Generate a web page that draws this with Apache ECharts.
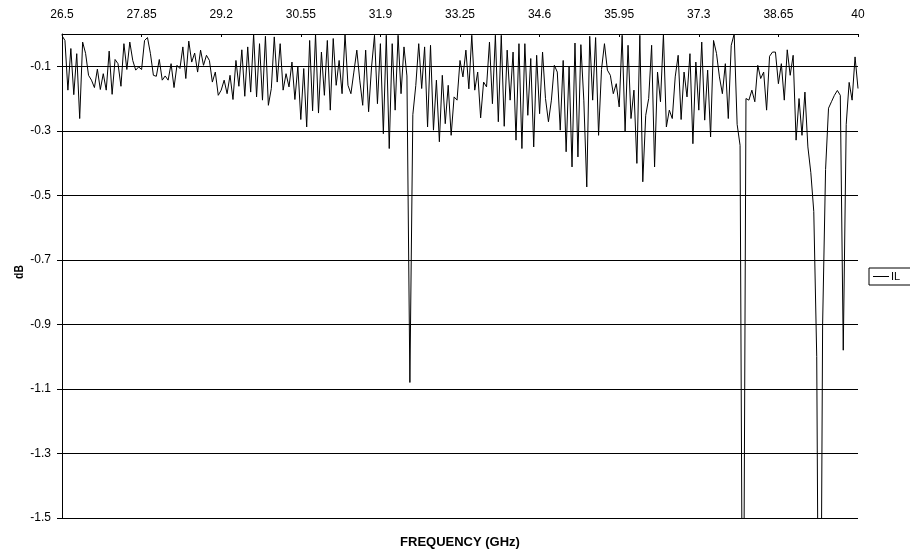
<!DOCTYPE html>
<html>
<head>
<meta charset="utf-8">
<script src="https://cdn.jsdelivr.net/npm/echarts@6/dist/echarts.min.js"></script>
<style>
html,body{margin:0;padding:0;background:#fff;}
#chart{width:910px;height:554px;}
</style>
</head>
<body>
<div id="chart"></div>
<script>
// Frequency sweep (GHz): start, step, number of points = IL_VALUES.length
var FREQ_START = 26.5;
var FREQ_STEP = 0.05;
var X_TICK_INTERVAL = 1.35;
var SERIES_NAME = 'IL';
var Y_LABEL = 'dB';
var X_LABEL = 'FREQUENCY (GHz)';

// Insertion loss (dB)
var IL_VALUES = [
-0.005,-0.02,-0.174,-0.045,-0.188,-0.061,-0.262,-0.025,-0.06,-0.128,
-0.143,-0.166,-0.109,-0.172,-0.123,-0.174,-0.053,-0.187,-0.079,-0.092,
-0.162,-0.03,-0.11,-0.025,-0.082,-0.112,-0.102,-0.11,-0.02,-0.011,
-0.061,-0.128,-0.131,-0.079,-0.143,-0.13,-0.143,-0.092,-0.166,-0.097,
-0.107,-0.04,-0.138,-0.022,-0.087,-0.059,-0.118,-0.05,-0.097,-0.066,
-0.082,-0.149,-0.118,-0.19,-0.174,-0.143,-0.185,-0.128,-0.203,-0.082,
-0.162,-0.049,-0.193,-0.04,-0.18,0.0,-0.195,-0.03,-0.205,-0.007,
-0.221,-0.169,-0.009,-0.149,-0.03,-0.174,-0.123,-0.164,-0.087,-0.203,
-0.1,-0.265,-0.107,-0.288,-0.02,-0.238,0.0,-0.245,-0.056,-0.19,
-0.02,-0.236,-0.014,-0.159,-0.082,-0.185,0.0,-0.159,-0.185,-0.118,
-0.05,-0.143,-0.221,-0.05,-0.241,-0.102,-0.004,-0.216,-0.03,-0.309,
-0.004,-0.355,-0.03,-0.236,-0.004,-0.185,-0.04,-0.13,-1.08,-0.25,
-0.16,-0.03,-0.169,-0.04,-0.288,-0.035,-0.298,-0.143,-0.334,-0.128,
-0.278,-0.159,-0.314,-0.195,-0.205,-0.082,-0.133,-0.05,-0.17,-0.004,
-0.174,-0.118,-0.26,-0.149,-0.164,-0.025,-0.216,-0.004,-0.272,-0.004,
-0.286,-0.05,-0.205,-0.056,-0.329,-0.03,-0.355,-0.03,-0.252,-0.076,
-0.35,-0.066,-0.247,-0.056,-0.2,-0.272,-0.205,-0.097,-0.118,-0.298,
-0.082,-0.365,-0.102,-0.412,-0.028,-0.381,-0.033,-0.205,-0.474,-0.007,
-0.205,-0.011,-0.314,-0.11,-0.03,-0.112,-0.128,-0.185,-0.154,-0.226,
-0.004,-0.303,-0.035,-0.262,-0.174,-0.401,-0.004,-0.458,-0.252,-0.2,
-0.035,-0.412,-0.118,-0.21,0.0,-0.288,-0.236,-0.262,-0.133,-0.066,
-0.265,-0.118,-0.195,-0.061,-0.34,-0.087,-0.236,-0.025,-0.267,-0.112,
-0.319,-0.02,-0.06,-0.133,-0.185,-0.092,-0.262,-0.035,0.0,-0.28,
-0.345,-2.3,-0.2,-0.205,-0.174,-0.21,-0.097,-0.138,-0.118,-0.236,
-0.069,-0.056,-0.056,-0.154,-0.092,-0.205,-0.049,-0.128,-0.066,-0.329,
-0.2,-0.314,-0.18,-0.35,-0.43,-0.55,-1.0,-2.6,-0.9,-0.42,
-0.23,-0.21,-0.19,-0.175,-0.19,-0.98,-0.28,-0.15,-0.205,-0.071,
-0.169
];

var points = [];
for (var i = 0; i < IL_VALUES.length; i++) {
  var f = Math.round((FREQ_START + FREQ_STEP * i) * 1000) / 1000;
  points.push([f, IL_VALUES[i]]);
}
var FREQ_END = points[points.length - 1][0];

var FONT = '"Liberation Sans", Arial, sans-serif';
var chart = echarts.init(document.getElementById('chart'), null, {renderer: 'canvas'});
chart.setOption({
  animation: false,
  backgroundColor: '#ffffff',
  grid: {left: 62, right: 52, top: 34, bottom: 36, containLabel: false},
  xAxis: {
    type: 'value',
    position: 'top',
    min: FREQ_START,
    max: FREQ_END,
    interval: X_TICK_INTERVAL,
    axisLine: {show: true, lineStyle: {color: '#000', width: 1}},
    axisTick: {show: true, inside: true, length: 3, lineStyle: {color: '#000'}},
    axisLabel: {
      color: '#000', fontSize: 12, fontFamily: FONT, margin: 13,
      formatter: function (v) { return String(Math.round(v * 100) / 100); }
    },
    splitLine: {show: false}
  },
  yAxis: {
    type: 'value',
    min: -1.5,
    max: 0,
    interval: 0.2,
    axisLine: {show: true, lineStyle: {color: '#000', width: 1}},
    axisTick: {show: true, length: 5, lineStyle: {color: '#000'}},
    axisLabel: {
      color: '#000', fontSize: 12, fontFamily: FONT, margin: 11,
      showMaxLabel: false,
      formatter: function (v) { var r = Math.round(v * 10) / 10; return r === 0 ? '' : r.toFixed(1); }
    },
    splitLine: {show: true, lineStyle: {color: '#000', width: 1}}
  },
  legend: {
    show: true,
    left: 869,
    top: 268,
    orient: 'vertical',
    borderColor: '#000',
    borderWidth: 1,
    borderRadius: 0,
    padding: [3, 30, 3, 4],
    itemWidth: 16,
    itemHeight: 1,
    itemGap: 0,
    textStyle: {color: '#000', fontSize: 11, fontFamily: FONT, padding: [0, 0, 0, -3]},
    data: [{name: SERIES_NAME, icon: 'rect', itemStyle: {color: '#000'}}]
  },
  graphic: [{
    type: 'text',
    x: 460,
    y: 542,
    style: {text: X_LABEL, fill: '#000', font: 'bold 13px ' + FONT, align: 'center', verticalAlign: 'middle'}
  }, {
    type: 'text',
    x: 19,
    y: 272,
    rotation: Math.PI / 2,
    scaleX: 0.8,
    style: {text: Y_LABEL, fill: '#000', font: 'bold 13px ' + FONT, align: 'center', verticalAlign: 'middle'}
  }],
  series: [{
    name: SERIES_NAME,
    type: 'line',
    data: points,
    showSymbol: false,
    symbol: 'none',
    clip: true,
    lineStyle: {color: '#000', width: 1},
    itemStyle: {color: '#000'}
  }]
});
</script>
</body>
</html>
